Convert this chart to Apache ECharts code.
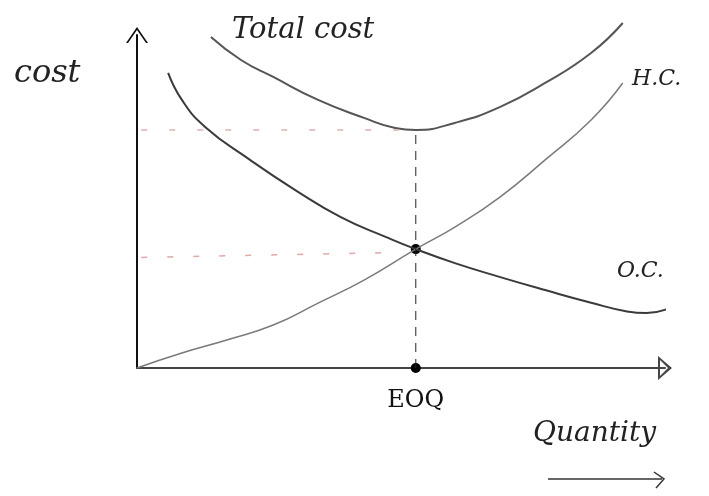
<!DOCTYPE html>
<html>
<head>
<meta charset="utf-8">
<script src="https://cdn.jsdelivr.net/npm/echarts@6/dist/echarts.min.js"></script>
<style>
  html, body { margin: 0; padding: 0; background: #fff; }
  #chart { width: 709px; height: 496px; }
</style>
</head>
<body>
<div id="chart"></div>
<script>
// Economic order quantity: ordering cost, holding cost and their total
const eoq = 52.8;
const crossCost = 35.7;
const minTotal = 71.5;

const totalCost = [
  [14.0, 99.4], [19.7, 92.5], [25.8, 87.4], [34.3, 80.5], [43.0, 75.1],
  [48.9, 72.1], [52.8, 71.5], [60.2, 73.6], [68.8, 78.4], [77.3, 85.6],
  [86.0, 94.6], [92.0, 103.6]
];
const orderingCost = [
  [5.9, 88.6], [8.5, 80.5], [12.9, 72.4], [21.4, 62.5], [29.9, 53.5],
  [38.6, 45.3], [47.2, 39.3], [52.8, 35.7], [60.2, 31.5], [68.8, 27.3],
  [77.3, 23.4], [86.0, 19.6], [92.8, 17.0], [96.5, 16.5], [100.6, 17.8]
];
const holdingCost = [
  [0, 0], [8.5, 4.5], [17.0, 8.4], [25.8, 12.9], [34.3, 19.5],
  [43.0, 26.4], [52.8, 35.7], [60.2, 42.3], [68.8, 51.4], [77.3, 62.5],
  [86.0, 74.5], [92.0, 85.6]
];

const hand = '"DejaVu Serif", serif';
const chart = echarts.init(document.getElementById('chart'));

const curve = (name, data, color, width) => ({
  name, type: 'line', data, smooth: 0.5, clip: false,
  showSymbol: false, lineStyle: { color, width }
});

chart.setOption({
  animation: false,
  backgroundColor: '#ffffff',
  grid: { left: 137, top: 35, width: 528, height: 333 },
  xAxis: {
    type: 'value', min: 0, max: 100,
    axisLine: {
      show: true,
      symbol: ['none', 'path://M12,0 L24,14 L0,14 Z M12,4 L4,12 L20,12 Z'],
      symbolSize: [24, 14],
      lineStyle: { color: '#444', width: 2 }
    },
    axisTick: { show: false }, axisLabel: { show: false }, splitLine: { show: false }
  },
  yAxis: {
    type: 'value', min: 0, max: 100,
    axisLine: {
      show: true,
      symbol: ['none', 'path://M0,16 L11,0 L22,16 L20,16 L11,3 L2,16 Z'],
      symbolSize: [22, 16],
      lineStyle: { color: '#111', width: 2 }
    },
    axisTick: { show: false }, axisLabel: { show: false }, splitLine: { show: false }
  },
  series: [
    curve('Total cost', totalCost, '#555', 2),
    curve('O.C.', orderingCost, '#3a3a3a', 2),
    curve('H.C.', holdingCost, '#7a7a7a', 1.5),
    {
      // guide to the minimum total cost
      type: 'line', data: [[0.8, minTotal], [eoq - 3, minTotal]], showSymbol: false,
      lineStyle: { color: '#e2b0b0', width: 1.5, type: [6, 22] }
    },
    {
      // guide to the crossing cost
      type: 'line', data: [[0.8, crossCost - 2.5], [eoq - 3, crossCost - 1]], showSymbol: false,
      lineStyle: { color: '#e2a8a8', width: 1.5, type: [6, 20] }
    },
    {
      // EOQ drop line
      type: 'line', data: [[eoq, 0], [eoq, minTotal]], showSymbol: false,
      lineStyle: { color: '#222', width: 1, type: [9, 7] }
    },
    {
      type: 'scatter', symbolSize: 10, itemStyle: { color: '#000', opacity: 1 },
      data: [
        { value: [eoq, crossCost] },
        {
          value: [eoq, 0],
          label: {
            show: true, position: 'bottom', distance: 16, formatter: 'EOQ',
            fontFamily: hand, fontSize: 24, color: '#111'
          }
        }
      ]
    }
  ],
  graphic: [
    { type: 'text', left: 14, top: 58, style: { text: 'cost', font: 'italic 32px ' + hand, fill: '#222' } },
    { type: 'text', left: 232, top: 16, style: { text: 'Total cost', font: 'italic 29px ' + hand, fill: '#222' } },
    { type: 'text', left: 632, top: 68, style: { text: 'H.C.', font: 'italic 22px ' + hand, fill: '#222' } },
    { type: 'text', left: 617, top: 260, style: { text: 'O.C.', font: 'italic 22px ' + hand, fill: '#222' } },
    { type: 'text', left: 533, top: 420, style: { text: 'Quantity', font: 'italic 28px ' + hand, fill: '#222' } },
    { type: 'line', shape: { x1: 548, y1: 479, x2: 662, y2: 479 }, style: { stroke: '#333', lineWidth: 1.5 } },
    { type: 'polyline', shape: { points: [[654, 472], [664, 479], [656, 488]] }, style: { stroke: '#333', lineWidth: 1.5, fill: null } }
  ]
});
</script>
</body>
</html>
